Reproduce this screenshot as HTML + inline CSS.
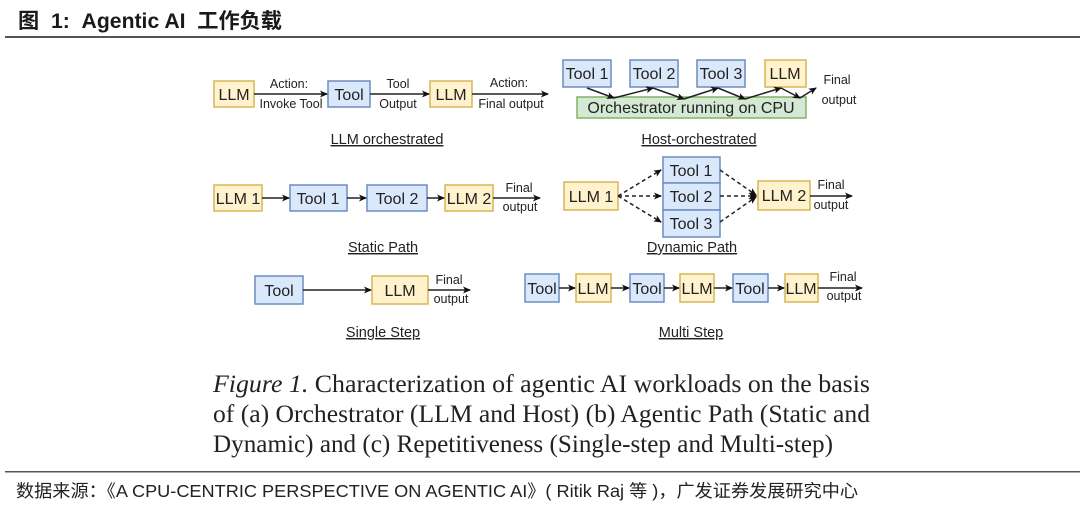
<!DOCTYPE html>
<html><head><meta charset="utf-8"><style>
html,body{margin:0;padding:0;background:#fff;width:1080px;height:507px;overflow:hidden}
svg{display:block}
.y{fill:#fff2cc;stroke:#d6b656;stroke-width:1.5}
.b{fill:#dae8fc;stroke:#6c8ebf;stroke-width:1.5}
.g{fill:#d5e8d4;stroke:#82b366;stroke-width:1.5}
.bt{font-family:"Liberation Sans",sans-serif;font-size:16px;fill:#222;text-anchor:middle}
.lb{font-family:"Liberation Sans",sans-serif;font-size:12.5px;fill:#222;text-anchor:middle}
.cap{font-family:"Liberation Sans",sans-serif;font-size:14.5px;fill:#222;text-anchor:middle;text-decoration:underline}
.ln{stroke:#222;stroke-width:1.5;fill:none}
.d{stroke:#222;stroke-width:1.5;fill:none;stroke-dasharray:4 3}
.sv{font-family:"Liberation Serif",serif;font-size:25.5px;fill:#222}
</style></head><body>
<svg width="1080" height="507" viewBox="0 0 1080 507" xmlns="http://www.w3.org/2000/svg">
<defs><marker id="a" markerWidth="8" markerHeight="8" refX="7" refY="4" orient="auto" markerUnits="userSpaceOnUse"><path d="M0,0.5 L8,4 L0,7.5 L2,4z" fill="#111"/></marker></defs>
<text x="18" y="28" font-family="'Liberation Sans','Noto Sans CJK SC',sans-serif" font-size="21" font-weight="bold" fill="#1a1a1a" textLength="264" lengthAdjust="spacingAndGlyphs">图 &#160;1:&#160; Agentic AI &#160;工作负载</text>
<rect x="5" y="36" width="1075" height="2" fill="#555"/>

<rect class="y" x="214" y="81" width="40" height="26"/><text class="bt" x="234" y="100">LLM</text>
<rect class="b" x="328" y="81" width="42" height="26"/><text class="bt" x="349" y="100">Tool</text>
<rect class="y" x="430" y="81" width="42" height="26"/><text class="bt" x="451" y="100">LLM</text>
<line class="ln" x1="254" y1="94" x2="327" y2="94" marker-end="url(#a)"/>
<line class="ln" x1="370" y1="94" x2="429" y2="94" marker-end="url(#a)"/>
<line class="ln" x1="472" y1="94" x2="548" y2="94" marker-end="url(#a)"/>
<text class="lb" x="289" y="88">Action:</text><text class="lb" x="291" y="108">Invoke Tool</text>
<text class="lb" x="398" y="88">Tool</text><text class="lb" x="398" y="108">Output</text>
<text class="lb" x="509" y="87">Action:</text><text class="lb" x="511" y="108">Final output</text>
<text class="cap" x="387" y="144">LLM orchestrated</text>

<rect class="y" x="214" y="185" width="48" height="26"/><text class="bt" x="238" y="204">LLM 1</text>
<rect class="b" x="290" y="185" width="57" height="26"/><text class="bt" x="318" y="204">Tool 1</text>
<rect class="b" x="367" y="185" width="60" height="26"/><text class="bt" x="397" y="204">Tool 2</text>
<rect class="y" x="445" y="185" width="48" height="26"/><text class="bt" x="469" y="204">LLM 2</text>
<line class="ln" x1="262" y1="198" x2="289" y2="198" marker-end="url(#a)"/>
<line class="ln" x1="347" y1="198" x2="366" y2="198" marker-end="url(#a)"/>
<line class="ln" x1="427" y1="198" x2="444" y2="198" marker-end="url(#a)"/>
<line class="ln" x1="493" y1="198" x2="540" y2="198" marker-end="url(#a)"/>
<text class="lb" x="519" y="192">Final</text><text class="lb" x="520" y="211">output</text>
<text class="cap" x="383" y="252">Static Path</text>

<rect class="g" x="577" y="97" width="229" height="21"/><text class="bt" x="691" y="113">Orchestrator running on CPU</text>
<rect class="b" x="563" y="60" width="48" height="27"/><text class="bt" x="587" y="79">Tool 1</text>
<rect class="b" x="630" y="60" width="48" height="27"/><text class="bt" x="654" y="79">Tool 2</text>
<rect class="b" x="697" y="60" width="48" height="27"/><text class="bt" x="721" y="79">Tool 3</text>
<rect class="y" x="765" y="60" width="41" height="27"/><text class="bt" x="785" y="79">LLM</text>
<line class="ln" x1="587" y1="88" x2="614" y2="98" marker-end="url(#a)"/>
<line class="ln" x1="614" y1="98" x2="653" y2="88" marker-end="url(#a)"/>
<line class="ln" x1="653" y1="88" x2="684" y2="99" marker-end="url(#a)"/>
<line class="ln" x1="684" y1="99" x2="718" y2="88" marker-end="url(#a)"/>
<line class="ln" x1="718" y1="88" x2="745" y2="99" marker-end="url(#a)"/>
<line class="ln" x1="745" y1="99" x2="781" y2="88" marker-end="url(#a)"/>
<line class="ln" x1="781" y1="88" x2="800" y2="98" marker-end="url(#a)"/>
<line class="ln" x1="800" y1="98" x2="816" y2="88" marker-end="url(#a)"/>
<text class="lb" x="837" y="84">Final</text><text class="lb" x="839" y="104">output</text>
<text class="cap" x="699" y="144">Host-orchestrated</text>

<rect class="y" x="564" y="182" width="54" height="28"/><text class="bt" x="591" y="202">LLM 1</text>
<rect class="b" x="663" y="157" width="57" height="26"/><text class="bt" x="691" y="176">Tool 1</text>
<rect class="b" x="663" y="183" width="57" height="27"/><text class="bt" x="691" y="202">Tool 2</text>
<rect class="b" x="663" y="210" width="57" height="27"/><text class="bt" x="691" y="229">Tool 3</text>
<rect class="y" x="758" y="181" width="52" height="29"/><text class="bt" x="784" y="201">LLM 2</text>
<line class="d" x1="618" y1="196" x2="661" y2="170" marker-end="url(#a)"/>
<line class="d" x1="618" y1="196" x2="661" y2="196" marker-end="url(#a)"/>
<line class="d" x1="618" y1="196" x2="661" y2="222" marker-end="url(#a)"/>
<line class="d" x1="720" y1="170" x2="756" y2="195" marker-end="url(#a)"/>
<line class="d" x1="720" y1="196" x2="756" y2="196" marker-end="url(#a)"/>
<line class="d" x1="720" y1="222" x2="756" y2="197" marker-end="url(#a)"/>
<line class="ln" x1="810" y1="196" x2="852" y2="196" marker-end="url(#a)"/>
<text class="lb" x="831" y="189">Final</text><text class="lb" x="831" y="209">output</text>
<text class="cap" x="692" y="252">Dynamic Path</text>

<rect class="b" x="255" y="276" width="48" height="28"/><text class="bt" x="279" y="296">Tool</text>
<rect class="y" x="372" y="276" width="56" height="28"/><text class="bt" x="400" y="296">LLM</text>
<line class="ln" x1="303" y1="290" x2="371" y2="290" marker-end="url(#a)"/>
<line class="ln" x1="428" y1="290" x2="470" y2="290" marker-end="url(#a)"/>
<text class="lb" x="449" y="284">Final</text><text class="lb" x="451" y="303">output</text>
<text class="cap" x="383" y="337">Single Step</text>

<rect class="b" x="525" y="274" width="34" height="28"/><text class="bt" x="542" y="294">Tool</text>
<rect class="y" x="576" y="274" width="35" height="28"/><text class="bt" x="593" y="294">LLM</text>
<rect class="b" x="630" y="274" width="34" height="28"/><text class="bt" x="647" y="294">Tool</text>
<rect class="y" x="680" y="274" width="34" height="28"/><text class="bt" x="697" y="294">LLM</text>
<rect class="b" x="733" y="274" width="35" height="28"/><text class="bt" x="750" y="294">Tool</text>
<rect class="y" x="785" y="274" width="33" height="28"/><text class="bt" x="801" y="294">LLM</text>
<line class="ln" x1="559" y1="288" x2="575" y2="288" marker-end="url(#a)"/>
<line class="ln" x1="611" y1="288" x2="629" y2="288" marker-end="url(#a)"/>
<line class="ln" x1="664" y1="288" x2="679" y2="288" marker-end="url(#a)"/>
<line class="ln" x1="714" y1="288" x2="732" y2="288" marker-end="url(#a)"/>
<line class="ln" x1="768" y1="288" x2="784" y2="288" marker-end="url(#a)"/>
<line class="ln" x1="818" y1="288" x2="862" y2="288" marker-end="url(#a)"/>
<text class="lb" x="843" y="281">Final</text><text class="lb" x="844" y="300">output</text>
<text class="cap" x="691" y="337">Multi Step</text>

<text class="sv" x="213" y="392" textLength="657" lengthAdjust="spacingAndGlyphs"><tspan font-style="italic">Figure 1.</tspan> Characterization of agentic AI workloads on the basis</text>
<text class="sv" x="213" y="422" textLength="657" lengthAdjust="spacingAndGlyphs">of (a) Orchestrator (LLM and Host) (b) Agentic Path (Static and</text>
<text class="sv" x="213" y="452" textLength="620" lengthAdjust="spacingAndGlyphs">Dynamic) and (c) Repetitiveness (Single-step and Multi-step)</text>

<rect x="5" y="471" width="1075" height="1.5" fill="#555"/>
<text x="16" y="497" font-family="'Liberation Sans','Noto Sans CJK SC',sans-serif" font-size="17.5" fill="#222" textLength="842" lengthAdjust="spacingAndGlyphs">数据来源：《A CPU-CENTRIC PERSPECTIVE ON AGENTIC AI》( Ritik Raj 等 )，广发证券发展研究中心</text>
</svg>
</body></html>
